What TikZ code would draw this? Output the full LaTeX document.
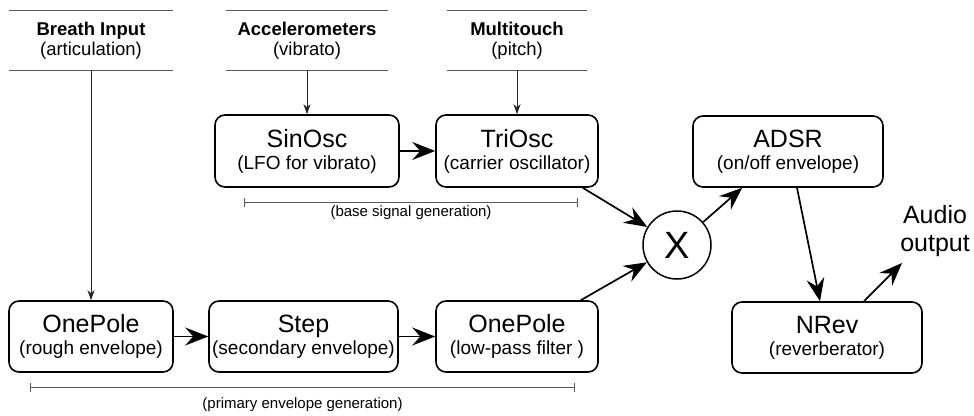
\documentclass[tikz,border=0pt]{standalone}
\usepackage{fontspec}
\setmainfont{Liberation Sans}
\usetikzlibrary{arrows.meta}
\begin{document}
\begin{tikzpicture}[x=1pt,y=-1pt,
  box/.style={draw, line width=1.6pt, rounded corners=10pt, align=center,
    font=\fontsize{19}{22}\selectfont, inner sep=0pt},
  hdr/.style={align=center, font=\fontsize{18.5}{20.5}\selectfont, inner sep=0pt},
  hline/.style={draw=black!65, line width=1.1pt},
  thinarrow/.style={black!85, line width=0.9pt, -{Stealth[length=10pt,width=7pt,inset=3pt]}},
  thick arrow/.style={line width=1.7pt, -{Stealth[length=23pt,width=18pt,inset=8pt]}},
  bracket/.style={draw=black!65, line width=1pt, {Bar[width=9pt]}-{Bar[width=9pt]}},
  small/.style={font=\fontsize{15}{17}\selectfont, inner sep=0pt},
  big/.style={font=\fontsize{25}{28}\selectfont}
]
\useasboundingbox (0,0) rectangle (974,415);

% headers
\node[hdr, minimum width=163pt, minimum height=59pt] (hb) at (91,40.5) {\textbf{Breath Input}\\(articulation)};
\node[hdr, minimum width=162pt, minimum height=59pt] (ha) at (307,40.5) {\textbf{Accelerometers}\\(vibrato)};
\node[hdr, minimum width=140pt, minimum height=59pt] (hm) at (517,40.5) {\textbf{Multitouch}\\(pitch)};
\foreach \h in {hb,ha,hm}{
  \draw[hline] (\h.north west) -- (\h.north east);
  \draw[hline] (\h.south west) -- (\h.south east);
}

% boxes
\node[box, minimum width=184pt, minimum height=72pt] (sin) at (307,151) {{\fontsize{25}{22}\selectfont SinOsc}\\(LFO for vibrato)};
\node[box, minimum width=162pt, minimum height=72pt] (tri) at (517,151) {{\fontsize{25}{22}\selectfont TriOsc}\\(carrier oscillator)};
\node[box, minimum width=190pt, minimum height=71pt] (adsr) at (788,151.5) {{\fontsize{25}{22}\selectfont ADSR}\\(on/off envelope)};
\node[box, minimum width=164pt, minimum height=71pt] (op1) at (91,336.5) {{\fontsize{25}{22}\selectfont OnePole}\\(rough envelope)};
\node[box, minimum width=189pt, minimum height=71pt] (stp) at (303.5,336.5) {{\fontsize{25}{22}\selectfont Step}\\(secondary envelope)};
\node[box, minimum width=162pt, minimum height=71pt] (op2) at (517,336.5) {{\fontsize{25}{22}\selectfont OnePole}\\(low-pass filter )};
\node[box, minimum width=190pt, minimum height=71pt] (nrev) at (827,337.5) {{\fontsize{25}{22}\selectfont NRev}\\(reverberator)};
\node[draw, circle, line width=1.5pt, minimum size=68pt, inner sep=0pt, font=\fontsize{38}{38}\selectfont] (mul) at (677,245) {X};
\node[big, align=center, inner sep=0pt] (out) at (935,231) {Audio\\output};

% brackets
\coordinate (b1) at (244,202); \coordinate (b2) at (578,202);
\draw[bracket] (b1) -- (b2);
\node[small] (bl) at (411,213) {(base signal generation)};
\coordinate (p1) at (30,387); \coordinate (p2) at (575,387);
\draw[bracket] (p1) -- (p2);
\node[small] (pl) at (302.5,405) {(primary envelope generation)};

% connectors
\draw[thinarrow] (hb.south) -- (op1.north);
\draw[thinarrow] (ha.south) -- (sin.north);
\draw[thinarrow] (hm.south) -- (tri.north);
\draw[thick arrow] (sin.east) -- (tri.west);
\draw[thick arrow] (op1.east) -- (stp.west);
\draw[thick arrow] (stp.east) -- (op2.west);
\coordinate (t1) at ([xshift=-16pt]tri.south east);
\draw[thick arrow] (t1) -- (mul);
\coordinate (o2) at ([xshift=-18pt]op2.north east);
\draw[thick arrow] (o2) -- (mul);
\coordinate (a1) at ([xshift=50pt]adsr.south west);
\draw[thick arrow] (mul) -- (a1);
\coordinate (a2) at ([xshift=9pt]adsr.south);
\coordinate (n1) at ([xshift=-7pt]nrev.north);
\draw[thick arrow] (a2) -- (n1);
\coordinate (n2) at ([xshift=37pt]nrev.north);
\coordinate (oe) at (902,263);
\draw[thick arrow] (n2) -- (oe);
\end{tikzpicture}
\end{document}
